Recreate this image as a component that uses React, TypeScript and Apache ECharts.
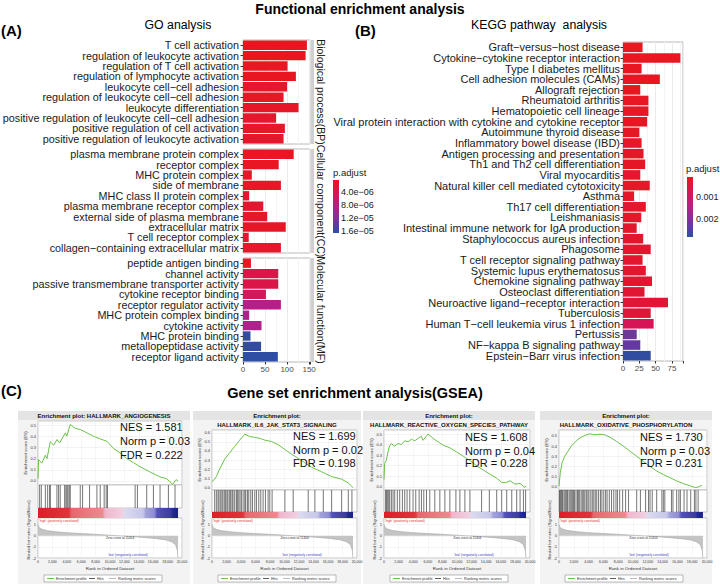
import React, { useEffect, useRef } from "react";
import * as echarts from "echarts";

const FONT = "'Liberation Sans', Arial, Helvetica, sans-serif";

// ---------------- GO data ----------------
const goBPTerms = [
  "T cell activation",
  "regulation of leukocyte activation",
  "regulation of T cell activation",
  "regulation of lymphocyte activation",
  "leukocyte cell−cell adhesion",
  "regulation of leukocyte cell−cell adhesion",
  "leukocyte differentiation",
  "positive regulation of leukocyte cell−cell adhesion",
  "positive regulation of cell activation",
  "positive regulation of leukocyte activation",
];
const goBPCounts = [145, 142, 101, 120, 100, 92, 126, 75, 95, 92];
const goBPPadj = [3e-7, 3e-7, 6e-7, 5e-7, 8e-7, 1e-6, 9e-7, 1.2e-6, 1.1e-6, 1.3e-6];

const goCCTerms = [
  "plasma membrane protein complex",
  "receptor complex",
  "MHC protein complex",
  "side of membrane",
  "MHC class II protein complex",
  "plasma membrane receptor complex",
  "external side of plasma membrane",
  "extracellular matrix",
  "T cell receptor complex",
  "collagen−containing extracellular matrix",
];
const goCCCounts = [115, 81, 20, 86, 14, 46, 55, 97, 13, 86];
const goCCPadj = [4e-7, 6e-7, 1e-6, 8e-7, 1.5e-6, 1.5e-6, 1.2e-6, 9e-7, 1.7e-6, 1.1e-6];

const goMFTerms = [
  "peptide antigen binding",
  "channel activity",
  "passive transmembrane transporter activity",
  "cytokine receptor binding",
  "receptor regulator activity",
  "MHC protein complex binding",
  "cytokine activity",
  "MHC protein binding",
  "metallopeptidase activity",
  "receptor ligand activity",
];
const goMFCounts = [18, 80, 80, 52, 86, 14, 42, 17, 41, 79];
const goMFPadj = [5e-7, 3.5e-6, 3.5e-6, 5e-6, 8.5e-6, 9.2e-6, 9.2e-6, 1.62e-5, 1.62e-5, 1.65e-5];

const goStrips = ["Biological process(BP)", "Cellular component(CC)", "Molecular function(MF)"];
const goPadjRange = [2.8e-7, 1.66e-5];
const goLegendLabels = ["4.0e−06", "8.0e−06", "1.2e−05", "1.6e−05"];
const goLegendValues = [4e-6, 8e-6, 1.2e-5, 1.6e-5];

// ---------------- KEGG data ----------------
const keggTerms = [
  "Graft−versus−host disease",
  "Cytokine−cytokine receptor interaction",
  "Type I diabetes mellitus",
  "Cell adhesion molecules (CAMs)",
  "Allograft rejection",
  "Rheumatoid arthritis",
  "Hematopoietic cell lineage",
  "Viral protein interaction with cytokine and cytokine receptor",
  "Autoimmune thyroid disease",
  "Inflammatory bowel disease (IBD)",
  "Antigen processing and presentation",
  "Th1 and Th2 cell differentiation",
  "Viral myocarditis",
  "Natural killer cell mediated cytotoxicity",
  "Asthma",
  "Th17 cell differentiation",
  "Leishmaniasis",
  "Intestinal immune network for IgA production",
  "Staphylococcus aureus infection",
  "Phagosome",
  "T cell receptor signaling pathway",
  "Systemic lupus erythematosus",
  "Chemokine signaling pathway",
  "Osteoclast differentiation",
  "Neuroactive ligand−receptor interaction",
  "Tuberculosis",
  "Human T−cell leukemia virus 1 infection",
  "Pertussis",
  "NF−kappa B signaling pathway",
  "Epstein−Barr virus infection",
];
const keggCounts = [30, 88, 28.5, 56.5, 26.5, 39, 39, 37, 25, 28.5, 31.5, 34, 26.5, 41, 17, 35, 28, 21, 31, 42.5, 30, 35, 44.5, 33, 69, 42.5, 47, 21, 26.5, 42.5];
const keggPadj = [
  1.0e-4, 1.0e-4, 1.2e-4, 1.2e-4, 1.3e-4, 1.4e-4, 1.5e-4, 1.6e-4, 1.7e-4, 1.8e-4,
  1.9e-4, 2.0e-4, 2.1e-4, 2.2e-4, 2.3e-4, 2.4e-4, 2.5e-4, 2.6e-4, 2.7e-4, 2.8e-4,
  2.9e-4, 3.0e-4, 3.2e-4, 3.4e-4, 4.0e-4, 4.2e-4, 8.0e-4, 2.2e-3, 2.3e-3, 2.75e-3,
];
const keggPadjRange = [9e-5, 2.8e-3];
const keggLegendLabels = ["0.001", "0.002"];
const keggLegendValues = [0.001, 0.002];

const PALETTE = ["#E8171F", "#D81553", "#B81F88", "#7A3399", "#2B4FA3"];

// ---------------- GSEA data ----------------
const gseaNames = [
  "HALLMARK_ANGIOGENESIS",
  "HALLMARK_IL6_JAK_STAT3_SIGNALING",
  "HALLMARK_REACTIVE_OXYGEN_SPECIES_PATHWAY",
  "HALLMARK_OXIDATIVE_PHOSPHORYLATION",
];
const gseaNES = ["1.581", "1.699", "1.608", "1.730"];
const gseaNormP = ["0.03", "0.02", "0.04", "0.03"];
const gseaFDR = ["0.222", "0.198", "0.228", "0.231"];
const gseaRankTicks = [0, 2000, 4000, 6000, 8000, 10000, 12000, 14000, 16000, 18000, 20000];

const esAngiogenesis = [[0,0.02],[80,0.19],[550,0.16],[1000,0.23],[1250,0.2],[1700,0.35],[2200,0.32],[2630,0.37],[3000,0.34],[3800,0.43],[4000,0.4],[4480,0.505],[5170,0.47],[5860,0.46],[6800,0.43],[7700,0.4],[8640,0.376],[9560,0.355],[10500,0.29],[11400,0.25],[12330,0.2],[13250,0.164],[14180,0.127],[15570,0.08],[16950,0.036],[17880,0.02],[18700,-0.03],[19170,0.012],[19450,0.0]];
const esIL6 = [[0,0.06],[270,0.08],[600,0.117],[1060,0.2],[1750,0.31],[2440,0.38],[3130,0.45],[3820,0.52],[4520,0.586],[5200,0.56],[5900,0.55],[6590,0.54],[7280,0.52],[8200,0.505],[9120,0.47],[10050,0.417],[10970,0.364],[11890,0.318],[12800,0.27],[13730,0.22],[15120,0.17],[16500,0.117],[17880,0.088],[18800,0.046],[19450,-0.005]];
const esROS = [[0,0.07],[90,0.22],[320,0.25],[550,0.33],[780,0.39],[1000,0.41],[1460,0.385],[1920,0.41],[2380,0.4],[2840,0.436],[3300,0.426],[3750,0.45],[4210,0.436],[4670,0.458],[5130,0.48],[5350,0.44],[6040,0.5],[6730,0.458],[7410,0.426],[8100,0.394],[9020,0.37],[9930,0.33],[10850,0.29],[11760,0.25],[12680,0.2],[13590,0.16],[14510,0.12],[15420,0.083],[16110,0.042],[16800,0.042],[17250,0.058],[17940,0.026],[18630,0.032],[19310,-0.006],[19450,0.01]];
const esOXPHOS = [[0,0.01],[180,0.14],[410,0.235],[770,0.3],[1220,0.35],[1670,0.4],[2130,0.435],[2580,0.468],[3030,0.487],[3480,0.503],[4160,0.52],[4840,0.51],[5520,0.516],[6200,0.51],[6880,0.487],[7780,0.445],[8690,0.4],[9590,0.35],[10500,0.3],[11400,0.25],[12300,0.2],[13210,0.155],[14120,0.12],[15020,0.09],[15930,0.058],[16830,0.032],[17740,0.01],[18420,-0.006],[18870,0.0],[19320,0.016]];

const hitsAngiogenesis = [230,460,1020,1340,1620,1710,2630,2860,3090,3700,3880,4020,4160,4340,4480,5870,6190,7160,8180,8640,9190,9470,9650,13490,13810,15100,16030,16950,18110,19030];
const hitsIL6 = [370,600,830,970,1200,1380,1520,1750,1890,2070,2210,2440,2580,2770,2900,3130,3360,3500,3690,3870,4060,4290,4520,4650,4890,5070,5350,5580,5900,6130,6450,6730,7050,7370,7740,7970,8290,10050,11200,13270,14190,15350,16500,17880,18800,19300];
const hitsROS = [230,320,460,640,780,1010,1240,1470,1830,2150,2520,2840,3160,3530,3980,4350,4810,5130,5450,5820,6270,6960,7650,8340,9020,9850,10400,11080,11770,13370,14430,15440,16120,16810,17500,18180,18640,19100,19400];
const hitsOXPHOS = [60,180,300,420,520,700,850,1000,1150,1350,1500,1650,1800,1950,2100,2300,2500,2650,2800,3000,3200,3350,3500,3700,3900,4050,4300,4500,4700,4900,5100,5350,5600,5800,6050,6300,6500,6800,7100,7400,7700,7900,8200,8600,9000,9400,10500,11000,11700,12100,12300,12600,13200,13900,14100,14300,15200,15400,15900,16200,16400,16900,17300,17800,18300,18500,18800];

const rankedMetric = [[0,1.0],[150,0.75],[500,0.6],[1200,0.47],[2500,0.36],[4000,0.28],[6000,0.2],[8000,0.13],[10000,0.05],[11404,0],[13000,-0.07],[15000,-0.17],[16500,-0.26],[17800,-0.38],[18600,-0.55],[19100,-0.8],[19350,-1.3],[19450,-2.0]];
const zeroCross = 11404;
const rankEnd = 19450;

function buildOption() {
  const grid: any[] = [];
  const xAxis: any[] = [];
  const yAxis: any[] = [];
  const series: any[] = [];
  const graphic: any[] = [];

  const txt = (text: string, x: number, y: number, o: any = {}) => ({
    type: "text",
    x,
    y,
    z: 50,
    silent: true,
    rotation: o.rot || 0,
    style: {
      text,
      fontFamily: FONT,
      fontSize: o.size || 11,
      fontWeight: o.weight || "normal",
      fill: o.color || "#1a1a1a",
      textAlign: o.align || "left",
      textVerticalAlign: "middle",
    },
  });
  const gradStops = () =>
    PALETTE.map((c, i) => ({ offset: i / (PALETTE.length - 1), color: c }));

  // titles
  graphic.push(txt("Functional enrichment analysis", 360, 9, { size: 14, weight: "bold", align: "center", color: "#000" }));
  graphic.push(txt("(A)", 1, 30, { size: 15, weight: "bold", color: "#000" }));
  graphic.push(txt("GO analysis", 178, 25, { size: 12.3, align: "center", color: "#000" }));
  graphic.push(txt("(B)", 355, 30, { size: 15, weight: "bold", color: "#000" }));
  graphic.push(txt("KEGG pathway  analysis", 539, 25, { size: 12.3, align: "center", color: "#000" }));
  graphic.push(txt("(C)", 1, 390, { size: 15, weight: "bold", color: "#000" }));
  graphic.push(txt("Gene set enrichment analysis(GSEA)", 355, 393, { size: 14.5, weight: "bold", align: "center", color: "#000" }));

  const panelBorder = "#B8B8B8";
  const gridLine = "#EBEBEB";

  // ---------- GO facets ----------
  const facets = [
    { terms: goBPTerms, counts: goBPCounts, padj: goBPPadj, top: 40 },
    { terms: goCCTerms, counts: goCCCounts, padj: goCCPadj, top: 149 },
    { terms: goMFTerms, counts: goMFCounts, padj: goMFPadj, top: 258 },
  ];
  facets.forEach((f, i) => {
    grid.push({ left: 243, top: f.top, width: 67, height: 104, show: true, backgroundColor: "#fff", borderColor: panelBorder, borderWidth: 1, outerBoundsMode: "none" });
    xAxis.push({
      gridIndex: i, type: "value", min: 0, max: 152, interval: 50,
      axisLine: { show: false },
      axisTick: { show: i === 2, length: 2.5, lineStyle: { color: "#333" } },
      axisLabel: { show: i === 2, fontSize: 8, color: "#4d4d4d", margin: 3, fontFamily: FONT, formatter: (v: number) => (v % 50 === 0 ? String(v) : "") },
      splitLine: { show: true, lineStyle: { color: gridLine } },
      minorTick: { show: false, splitNumber: 2 },
      minorSplitLine: { show: true, lineStyle: { color: "#F4F4F4" } },
    });
    yAxis.push({
      gridIndex: i, type: "category", data: f.terms, inverse: true,
      axisLine: { show: false },
      axisTick: { show: true, length: 2.5, alignWithLabel: true, interval: 0, lineStyle: { color: "#333" } },
      axisLabel: { fontSize: 10.8, color: "#1a1a1a", margin: 4, fontFamily: FONT, interval: 0, hideOverlap: false },
      splitLine: { show: false },
    });
    series.push({
      type: "bar", xAxisIndex: i, yAxisIndex: i, barCategoryGap: "10%",
      encode: { x: 0, y: 1 },
      data: f.terms.map((t, j) => [f.counts[j], j, f.padj[j]]),
    });
    graphic.push({ type: "rect", z: 5, silent: true, shape: { x: 310.5, y: f.top, width: 3.5, height: 104 }, style: { fill: "#CFCFCF" } });
    graphic.push(txt(goStrips[i], 321, f.top + 52, { size: 10.5, align: "center", rot: -Math.PI / 2 }));
  });

  // GO legend
  graphic.push(txt("p.adjust", 333, 172, { size: 9.5 }));
  graphic.push({ type: "rect", z: 50, silent: true, shape: { x: 333, y: 180, width: 6, height: 53 }, style: { fill: { type: "linear", x: 0, y: 0, x2: 0, y2: 1, colorStops: gradStops() } } });
  goLegendValues.forEach((v, i) => {
    const y = 180 + ((v - goPadjRange[0]) / (goPadjRange[1] - goPadjRange[0])) * 53;
    graphic.push(txt(goLegendLabels[i], 341, y, { size: 9 }));
  });

  // ---------- KEGG ----------
  grid.push({ left: 623, top: 42, width: 60, height: 319, show: true, backgroundColor: "#fff", borderColor: panelBorder, borderWidth: 1, outerBoundsMode: "none" });
  xAxis.push({
    gridIndex: 3, type: "value", min: 0, max: 92, interval: 25,
    axisLine: { show: false },
    axisTick: { show: true, length: 2.5, lineStyle: { color: "#333" } },
    axisLabel: { fontSize: 8, color: "#4d4d4d", margin: 3, fontFamily: FONT, formatter: (v: number) => (v % 25 === 0 ? String(v) : "") },
    splitLine: { show: true, lineStyle: { color: gridLine } },
    minorTick: { show: false, splitNumber: 2 },
    minorSplitLine: { show: true, lineStyle: { color: "#F4F4F4" } },
  });
  yAxis.push({
    gridIndex: 3, type: "category", data: keggTerms, inverse: true,
    axisLine: { show: false },
    axisTick: { show: true, length: 2.5, alignWithLabel: true, interval: 0, lineStyle: { color: "#333" } },
    axisLabel: { fontSize: 11, color: "#1a1a1a", margin: 3, fontFamily: FONT, interval: 0, hideOverlap: false },
    splitLine: { show: false },
  });
  series.push({
    type: "bar", xAxisIndex: 3, yAxisIndex: 3, barCategoryGap: "10%",
    encode: { x: 0, y: 1 },
    data: keggTerms.map((t, j) => [keggCounts[j], j, keggPadj[j]]),
  });
  graphic.push(txt("p.adjust", 686, 168, { size: 9.5 }));
  graphic.push({ type: "rect", z: 50, silent: true, shape: { x: 687, y: 177, width: 6, height: 60 }, style: { fill: { type: "linear", x: 0, y: 0, x2: 0, y2: 1, colorStops: gradStops() } } });
  keggLegendValues.forEach((v, i) => {
    const y = 177 + ((v - keggPadjRange[0]) / (keggPadjRange[1] - keggPadjRange[0])) * 60;
    graphic.push(txt(keggLegendLabels[i], 696, y, { size: 9 }));
  });

  // ---------- GSEA ----------
  const esSets = [esAngiogenesis, esIL6, esROS, esOXPHOS];
  const hitSets = [hitsAngiogenesis, hitsIL6, hitsROS, hitsOXPHOS];
  const L = [38, 212, 384, 559];
  const Wd = [144, 145, 146, 148];
  const box = [[18, 172], [193, 168], [363, 172], [540, 172]];
  const esTop = [421, 430, 430, 430];
  const esH = [64, 60, 60, 60];
  const esRange = [[-0.036, 0.536], [-0.032, 0.632], [-0.03, 0.538], [-0.03, 0.557]];
  const hitsH = [23, 22, 22, 22];
  const nesX = [120, 293, 465, 640];
  const nesY = [[427, 441, 455], [436, 450, 463], [437, 451, 463], [437, 451, 463]];
  const GREEN = "#6CC24A";

  for (let k = 0; k < 4; k++) {
    const gi = 4 + k * 3;
    const left = L[k];
    const w = Wd[k];
    const hitsTop = esTop[k] + esH[k];
    const cbTop = hitsTop + hitsH[k];
    const cbH = 518 - cbTop;
    const rTop = 518;
    const rH = 40;

    graphic.push({ type: "rect", z: -1, silent: true, shape: { x: box[k][0], y: 411, width: box[k][1], height: 173 }, style: { fill: "#F3F3F3" } });
    graphic.push({ type: "rect", z: 1, silent: true, shape: { x: box[k][0], y: 411, width: box[k][1], height: 9 }, style: { fill: "#E4E4E4" } });
    const cx = box[k][0] + box[k][1] / 2;
    if (k === 0) {
      graphic.push(txt("Enrichment plot: " + gseaNames[k], cx, 415.5, { size: 6, weight: "bold", align: "center", color: "#111" }));
    } else {
      graphic.push(txt("Enrichment plot:", cx, 415.5, { size: 6, weight: "bold", align: "center", color: "#111" }));
      graphic.push(txt(gseaNames[k], cx, 424.5, { size: 6, weight: "bold", align: "center", color: "#111" }));
    }

    // ES grid
    grid.push({ left, top: esTop[k], width: w, height: esH[k], show: true, backgroundColor: "#fff", borderColor: "#A0A0A0", borderWidth: 0.6, outerBoundsMode: "none" });
    xAxis.push({ gridIndex: gi, type: "value", min: 0, max: 20000, interval: 2000, axisLine: { show: false }, axisTick: { show: false }, axisLabel: { show: false }, splitLine: { show: true, lineStyle: { color: "#EDEDED", width: 0.5 } } });
    yAxis.push({
      gridIndex: gi, type: "value", min: esRange[k][0], max: esRange[k][1],
      axisLine: { show: false }, axisTick: { show: false },
      axisLabel: { fontSize: 4, color: "#333", margin: 2, fontFamily: FONT, formatter: (v: number) => (Math.abs(v * 10 - Math.round(v * 10)) < 1e-6 ? v.toFixed(1) : "") },
      splitLine: { show: true, lineStyle: { color: "#E6E6E6", width: 0.5 } },
    });
    series.push({ type: "line", xAxisIndex: gi, yAxisIndex: gi, data: esSets[k], showSymbol: false, symbol: "none", lineStyle: { color: GREEN, width: 1 }, z: 5 });

    // hits grid
    grid.push({ left, top: hitsTop, width: w, height: hitsH[k], show: true, backgroundColor: "#fff", borderColor: "#A0A0A0", borderWidth: 0.6, outerBoundsMode: "none" });
    xAxis.push({ gridIndex: gi + 1, type: "value", min: 0, max: 20000, show: false, splitLine: { show: false } });
    yAxis.push({ gridIndex: gi + 1, type: "value", min: 0, max: 1, show: false, splitLine: { show: false } });
    series.push({
      type: "custom", xAxisIndex: gi + 1, yAxisIndex: gi + 1,
      data: hitSets[k].map((h) => [h, 1]),
      encode: { x: 0, y: 1 },
      renderItem: (params: any, api: any) => {
        const x = api.value(0);
        const p0 = api.coord([x, 0]);
        const p1 = api.coord([x, 1]);
        return { type: "line", shape: { x1: p0[0], y1: p0[1], x2: p1[0], y2: p1[1] }, style: { stroke: "#1a1a1a", lineWidth: 0.6 } };
      },
    });

    // colour bar
    graphic.push({
      type: "rect", z: 20, silent: true,
      shape: { x: left, y: cbTop, width: (w * rankEnd) / 20000, height: cbH },
      style: {
        fill: {
          type: "linear", x: 0, y: 0, x2: 1, y2: 0,
          colorStops: [
            { offset: 0, color: "#DD1E26" }, { offset: 0.22, color: "#E2333A" },
            { offset: 0.24, color: "#E9666C" }, { offset: 0.46, color: "#EC8A90" },
            { offset: 0.48, color: "#EFB6CC" }, { offset: 0.6, color: "#F1CFE0" },
            { offset: 0.62, color: "#DADAF0" }, { offset: 0.75, color: "#C6C6E8" },
            { offset: 0.77, color: "#A2A2DA" }, { offset: 0.83, color: "#8E8ED0" },
            { offset: 0.85, color: "#5353B2" }, { offset: 0.95, color: "#3A3AA2" },
            { offset: 0.96, color: "#222C90" }, { offset: 1, color: "#1A2282" },
          ],
        },
      },
    });

    // ranked metric grid
    grid.push({ left, top: rTop, width: w, height: rH, show: true, backgroundColor: "#fff", borderColor: "#A0A0A0", borderWidth: 0.6, outerBoundsMode: "none" });
    xAxis.push({
      gridIndex: gi + 2, type: "value", min: 0, max: 20000, interval: 2000,
      axisLine: { show: false }, axisTick: { show: false },
      axisLabel: { fontSize: 3.5, color: "#333", margin: 2, fontFamily: FONT, formatter: (v: number) => (gseaRankTicks.indexOf(v) >= 0 ? v.toLocaleString("en-US") : "") },
      splitLine: { show: true, lineStyle: { color: "#EDEDED", width: 0.5 } },
    });
    yAxis.push({
      gridIndex: gi + 2, type: "value", min: -2, max: 1.6, interval: 1,
      axisLine: { show: false }, axisTick: { show: false },
      axisLabel: { fontSize: 4, color: "#333", margin: 2, fontFamily: FONT, formatter: (v: number) => (Number.isInteger(v) ? String(v) : "") },
      splitLine: { show: true, lineStyle: { color: "#EDEDED", width: 0.5 } },
    });
    series.push({ type: "line", xAxisIndex: gi + 2, yAxisIndex: gi + 2, data: rankedMetric, showSymbol: false, symbol: "none", lineStyle: { color: "#A8A8A8", width: 0.6 }, areaStyle: { color: "#C4C4C4", opacity: 1 } });

    // texts
    graphic.push(txt("NES = " + gseaNES[k], nesX[k], nesY[k][0], { size: 11, color: "#111" }));
    graphic.push(txt("Norm p = " + gseaNormP[k], nesX[k], nesY[k][1], { size: 11, color: "#111" }));
    graphic.push(txt("FDR = " + gseaFDR[k], nesX[k], nesY[k][2], { size: 11, color: "#111" }));
    graphic.push(txt("Enrichment score (ES)", left - 13, esTop[k] + esH[k] / 2, { size: 4.3, align: "center", rot: Math.PI / 2, color: "#333" }));
    graphic.push(txt("Ranked list metric (Signal2Noise)", left - 10, 530, { size: 4, align: "center", rot: Math.PI / 2, color: "#333" }));
    graphic.push(txt("'high' (positively correlated)", left + 1, cbTop + cbH + 2.5, { size: 3.3, color: "#E03030" }));
    graphic.push(txt("'low' (negatively correlated)", left + 70, 555, { size: 3.3, color: "#3A3AC8" }));
    graphic.push(txt("Zero cross at " + zeroCross, left + (w * zeroCross) / 20000, 538, { size: 3.2, align: "center", color: "#333" }));
    graphic.push(txt("Rank in Ordered Dataset", left + w / 2, 568, { size: 4.4, align: "center", color: "#333" }));

    // legend box
    const ly = 578.5;
    graphic.push({ type: "rect", z: 30, silent: true, shape: { x: left + 6, y: 575, width: 118, height: 7 }, style: { fill: "#fff", stroke: "#777", lineWidth: 0.5 } });
    graphic.push({ type: "line", z: 31, silent: true, shape: { x1: left + 9, y1: ly, x2: left + 16, y2: ly }, style: { stroke: GREEN, lineWidth: 1 } });
    graphic.push(txt("Enrichment profile", left + 18, ly, { size: 3.8, color: "#333" }));
    graphic.push({ type: "line", z: 31, silent: true, shape: { x1: left + 51, y1: ly, x2: left + 57, y2: ly }, style: { stroke: "#333", lineWidth: 0.8 } });
    graphic.push(txt("Hits", left + 59, ly, { size: 3.8, color: "#333" }));
    graphic.push({ type: "line", z: 31, silent: true, shape: { x1: left + 71, y1: ly, x2: left + 78, y2: ly }, style: { stroke: "#AAA", lineWidth: 0.8 } });
    graphic.push(txt("Ranking metric scores", left + 80, ly, { size: 3.8, color: "#333" }));
  }

  return {
    animation: false,
    backgroundColor: "#fff",
    textStyle: { fontFamily: FONT },
    grid,
    xAxis,
    yAxis,
    series,
    graphic: { elements: graphic },
    visualMap: [
      { type: "continuous", show: false, seriesIndex: [0, 1, 2], dimension: 2, min: goPadjRange[0], max: goPadjRange[1], inRange: { color: PALETTE } },
      { type: "continuous", show: false, seriesIndex: 3, dimension: 2, min: keggPadjRange[0], max: keggPadjRange[1], inRange: { color: PALETTE } },
    ],
  };
}

export default function App() {
  const ref = useRef<HTMLDivElement>(null);
  useEffect(() => {
    if (!ref.current) return;
    const chart = echarts.init(ref.current, undefined, { renderer: "svg" });
    chart.setOption(buildOption() as any);
    return () => chart.dispose();
  }, []);
  return <div ref={ref} style={{ position: "absolute", left: 0, top: 0, width: 720, height: 584 }} />;
}
